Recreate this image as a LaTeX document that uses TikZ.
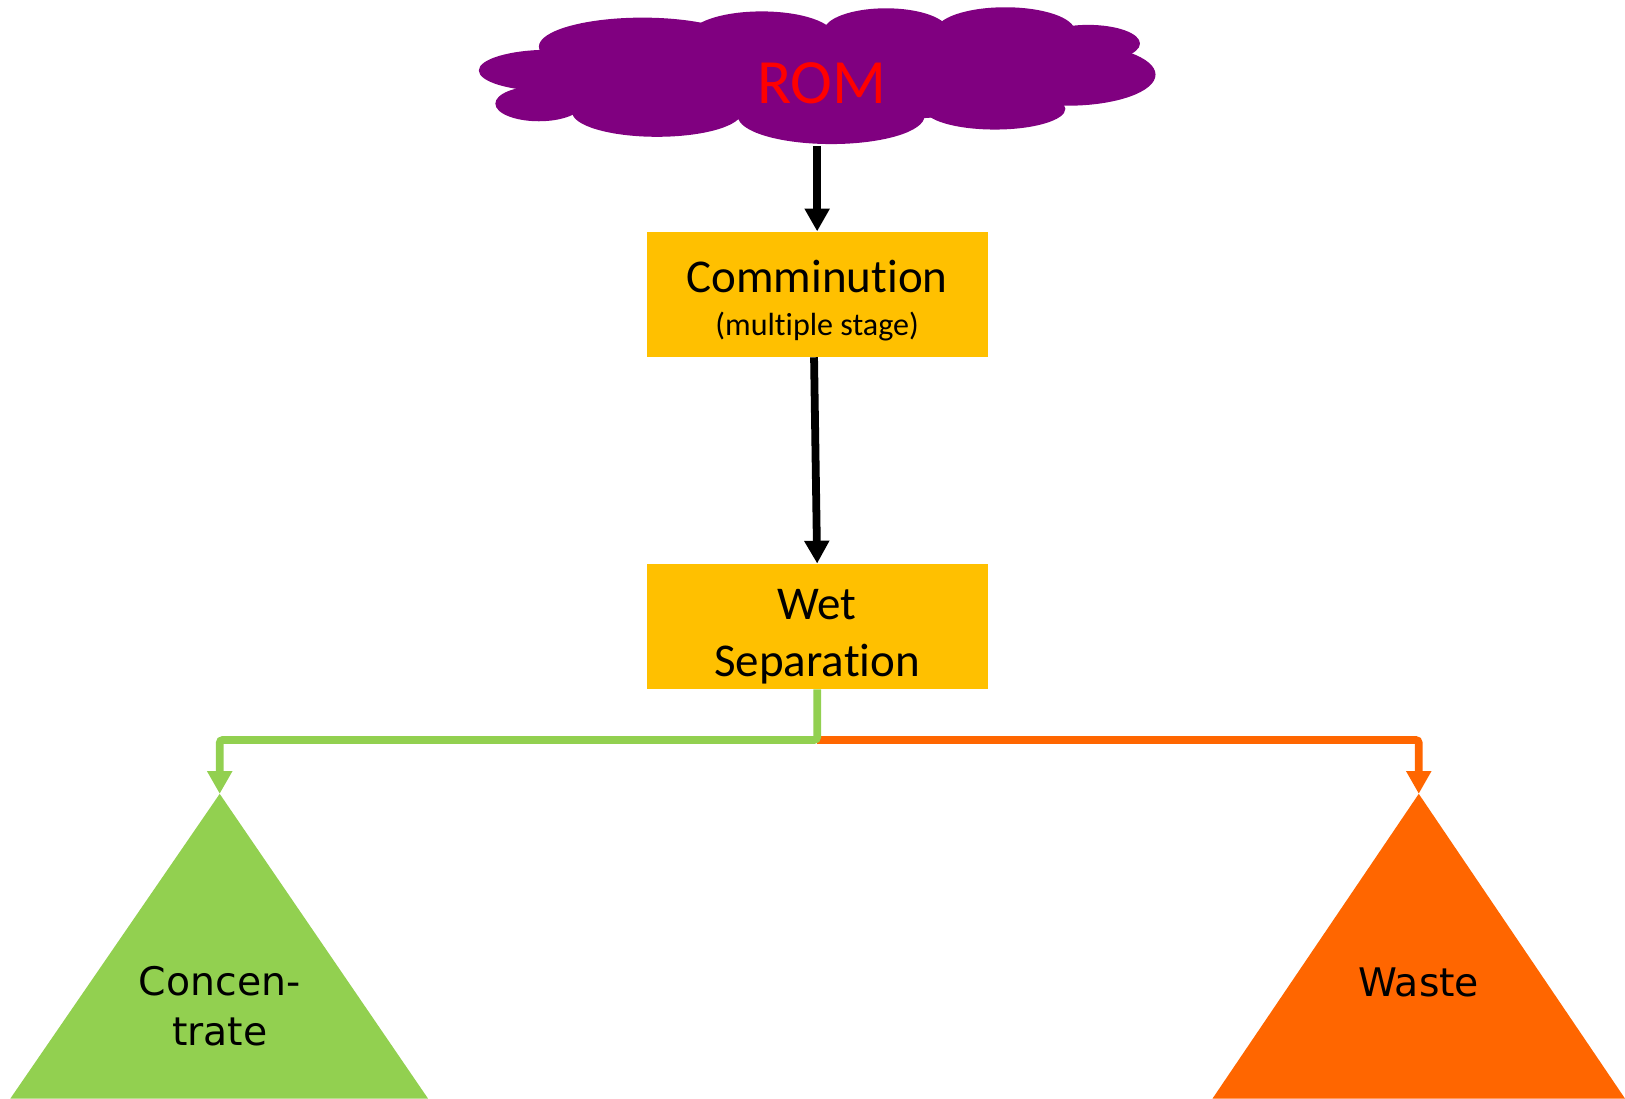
\documentclass[tikz,border=0pt]{standalone}
\usepackage{fontspec}
\setmainfont{Carlito}[Ligatures=NoCommon]
\newfontfamily\heapfont{DejaVu Sans}
\usetikzlibrary{arrows.meta}
\definecolor{rompurple}{HTML}{800080}
\definecolor{stagegold}{HTML}{FFC000}
\definecolor{concgreen}{HTML}{92D050}
\definecolor{wasteorange}{HTML}{FF6600}
\tikzset{
  stagebox/.style = {fill=stagegold, minimum width=3.29cm, minimum height=1.2cm, inner sep=0pt},
  stagetext/.style = {align=center, inner sep=0pt, font=\fontsize{12.9}{15.8}\selectfont},
  heaptext/.style = {align=center, inner sep=0pt, font=\heapfont\fontsize{10.8}{13.6}\selectfont},
  flow/.style = {line width=0.075cm, -{Triangle[width=0.23cm,length=0.22cm]}}
}

\begin{document}
\begin{tikzpicture}[x=0.01cm, y=-0.01cm]
    % frame
    \useasboundingbox (0,0) rectangle (1568,1060);
    % cloud
    \foreach \cx/\cy/\rx/\ry in {530/68/68/20, 520/100/42/17, 620/45/100/28, 735/35/70/24,
        855/30/60/22, 970/30/67/23, 1050/42/50/18, 1030/72/85/30, 960/105/68/20,
        802/112/90/27, 634/108/82/24, 600/85/80/25, 790/72/280/45}
        \fill[rompurple] (\cx,\cy) ellipse [x radius=\rx, y radius=\ry];
    \node[text=red, minimum height=1.2cm, inner sep=0pt, font=\fontsize{17.3}{20}\selectfont](rom)at(793,80){ROM};
    % stages
    \node[stagebox](comm)at(788.5,284){};
    \node[stagetext](commtext)at([yshift=-0.06cm]comm.center){Comminution\\[-4.1pt]{\fontsize{8.8}{10.5}\selectfont (multiple stage)}};
    \node[stagebox](wet)at(788.5,604.5){};
    \node[stagetext](wettext)at([yshift=-0.1cm]wet.center){Wet\\Separation};
    % heaps
    \coordinate(conc)at(212,766);
    \coordinate(waste)at(1369,766);
    \path[fill = concgreen](conc)--(10,1060)--(413,1060)--cycle;
    \path[fill = wasteorange](waste)--(1170,1060)--(1568,1060)--cycle;
    \node[heaptext](conctext)at(212,971){Concen-\\trate};
    \node[heaptext](wastetext)at(1369,948){Waste};
    % flows
    \draw[flow](rom.south -| comm.north)--(comm.north);
    \draw[flow]([xshift=-0.03cm]comm.south)--(wet.north);
    \coordinate(split)at(wet.south |- 0,714);
    \draw[flow, wasteorange, rounded corners=0.03cm](split)-|(waste);
    \draw[flow, concgreen, rounded corners=0.03cm](wet.south)--(split)-|(conc);
\end{tikzpicture}
\end{document}
